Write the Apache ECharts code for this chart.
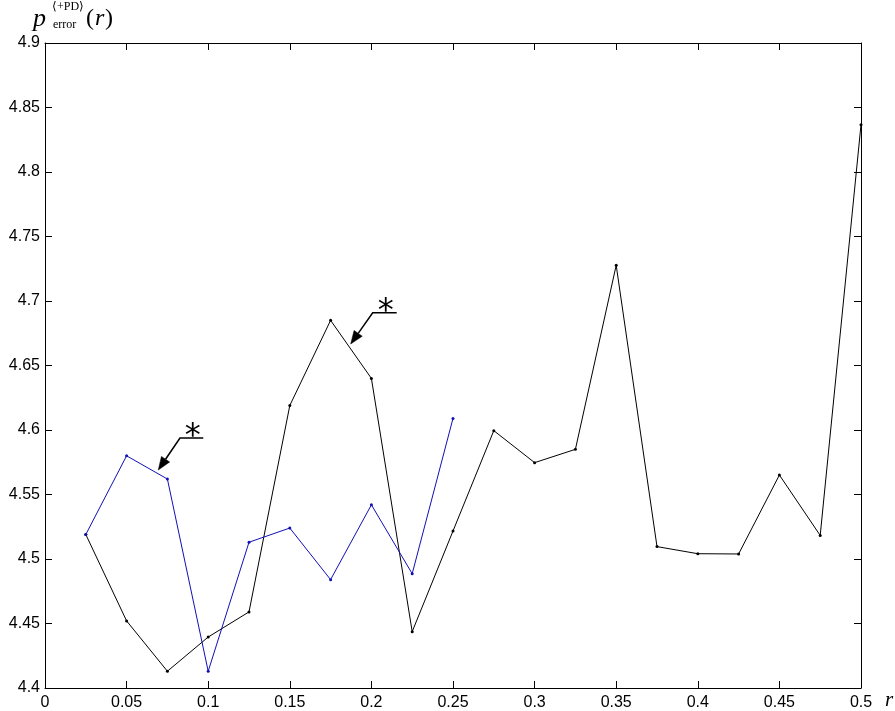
<!DOCTYPE html>
<html>
<head>
<meta charset="utf-8">
<script src="https://cdn.jsdelivr.net/npm/echarts@6/dist/echarts.min.js"></script>
<style>
html,body{margin:0;padding:0;background:#fff;}
#main{width:895px;height:711px;}
</style>
</head>
<body>
<div id="main"></div>
<script>
// ---- data ----
const xValues = [0.025, 0.05, 0.075, 0.1, 0.125, 0.15, 0.175, 0.2, 0.225, 0.25,
                 0.275, 0.3, 0.325, 0.35, 0.375, 0.4, 0.425, 0.45, 0.475, 0.5];
const blackValues = [4.519, 4.452, 4.413, 4.4395, 4.459, 4.619, 4.685, 4.640, 4.4437, 4.5217,
                     4.5995, 4.5747, 4.585, 4.7277, 4.5096, 4.5041, 4.5039, 4.5651, 4.5183, 4.8367];
const blueX = [0.025, 0.05, 0.075, 0.1, 0.125, 0.15, 0.175, 0.2, 0.225, 0.25];
const blueValues = [4.519, 4.580, 4.562, 4.413, 4.513, 4.524, 4.484, 4.542, 4.4886, 4.609];
const xTicks = {min: 0, max: 0.5, interval: 0.05};
const yTicks = {min: 4.4, max: 4.9, interval: 0.05};
// annotation arrows (data coords): tip, knee, end of underline
const arrow1 = [[0.0694, 4.569], [0.0827, 4.5938], [0.097, 4.5938]];
const arrow2 = [[0.1873, 4.6667], [0.2008, 4.6909], [0.2155, 4.6909]];
const annotationText = '*';

const chart = echarts.init(document.getElementById('main'), null, {renderer: 'canvas'});
const zip = (xs, ys) => xs.map((x, i) => [x, ys[i]]);
const labelFont = {color: '#000', fontSize: 16, fontFamily: 'Liberation Sans, Arial, sans-serif'};
const lineStyleAxis = {color: '#000', width: 1};

chart.setOption({
  animation: false,
  backgroundColor: '#fff',
  grid: {left: 45, right: 34, top: 43, bottom: 23, containLabel: false},
  xAxis: [
    {type: 'value', position: 'bottom', min: xTicks.min, max: xTicks.max, interval: xTicks.interval,
     axisLine: {show: true, onZero: false, lineStyle: lineStyleAxis},
     axisTick: {show: true, inside: true, length: 7, lineStyle: lineStyleAxis},
     axisLabel: Object.assign({margin: 7}, labelFont),
     splitLine: {show: false}},
    {type: 'value', position: 'top', min: xTicks.min, max: xTicks.max, interval: xTicks.interval,
     axisLine: {show: true, onZero: false, lineStyle: lineStyleAxis},
     axisTick: {show: true, inside: true, length: 7, lineStyle: lineStyleAxis},
     axisLabel: {show: false}, splitLine: {show: false}}
  ],
  yAxis: [
    {type: 'value', position: 'left', min: yTicks.min, max: yTicks.max, interval: yTicks.interval,
     axisLine: {show: true, onZero: false, lineStyle: lineStyleAxis},
     axisTick: {show: true, inside: true, length: 7, lineStyle: lineStyleAxis},
     axisLabel: Object.assign({margin: 5}, labelFont),
     splitLine: {show: false}},
    {type: 'value', position: 'right', min: yTicks.min, max: yTicks.max, interval: yTicks.interval,
     axisLine: {show: true, onZero: false, lineStyle: lineStyleAxis},
     axisTick: {show: true, inside: true, length: 7, lineStyle: lineStyleAxis},
     axisLabel: {show: false}, splitLine: {show: false}}
  ],
  series: [
    {type: 'line', xAxisIndex: 0, yAxisIndex: 0, data: zip(xValues, blackValues),
     symbol: 'circle', symbolSize: 3, showSymbol: true,
     lineStyle: {color: '#000', width: 1}, itemStyle: {color: '#000'}, z: 3},
    {type: 'line', xAxisIndex: 0, yAxisIndex: 0, data: zip(blueX, blueValues),
     symbol: 'circle', symbolSize: 3, showSymbol: true,
     lineStyle: {color: '#1010b8', width: 1}, itemStyle: {color: '#1010b8'}, z: 4}
  ]
});

function px(p) { return chart.convertToPixel({xAxisIndex: 0, yAxisIndex: 0}, p); }
function arrowGraphics(a) {
  const tip = px(a[0]), knee = px(a[1]), end = px(a[2]);
  const dx = tip[0] - knee[0], dy = tip[1] - knee[1];
  const len = Math.sqrt(dx * dx + dy * dy);
  const ux = dx / len, uy = dy / len;
  const hl = 13, hw = 5;
  const bx = tip[0] - ux * hl, by = tip[1] - uy * hl;
  const head = [tip, [bx - uy * hw, by + ux * hw], [bx + uy * hw, by - ux * hw]];
  return [
    {type: 'polyline', shape: {points: [[bx, by], knee, end]}, style: {stroke: '#000', lineWidth: 1.5, fill: null}},
    {type: 'polygon', shape: {points: head}, style: {fill: '#000', stroke: '#000', lineWidth: 0.5}},
    {type: 'text', x: (knee[0] + end[0]) / 2 + 1, y: knee[1] + 15,
     style: {text: annotationText, fontSize: 32, fontFamily: 'DejaVu Sans, sans-serif', fontWeight: 'normal',
             fill: '#000', align: 'center', verticalAlign: 'bottom'}}
  ];
}

const serif = 'Liberation Serif, Times New Roman, serif';
chart.setOption({
  graphic: [].concat(
    arrowGraphics(arrow1),
    arrowGraphics(arrow2),
    [
      {type: 'text', x: 33, y: 19, style: {text: 'p', fontSize: 26, fontStyle: 'italic', fontFamily: serif, fill: '#000', verticalAlign: 'middle'}},
      {type: 'text', x: 52, y: 7, style: {text: '\u27E8+PD\u27E9', fontSize: 12, fontFamily: serif, fill: '#000', verticalAlign: 'middle'}},
      {type: 'text', x: 53, y: 25, style: {text: 'error', fontSize: 12, fontFamily: serif, fill: '#000', verticalAlign: 'middle'}},
      {type: 'text', x: 86, y: 19, style: {text: '(', fontSize: 24, fontFamily: serif, fill: '#000', verticalAlign: 'middle'}},
      {type: 'text', x: 95, y: 19, style: {text: 'r', fontSize: 24, fontStyle: 'italic', fontFamily: serif, fill: '#000', verticalAlign: 'middle'}},
      {type: 'text', x: 105, y: 19, style: {text: ')', fontSize: 24, fontFamily: serif, fill: '#000', verticalAlign: 'middle'}},
      {type: 'text', x: 885, y: 700, style: {text: 'r', fontSize: 21, fontStyle: 'italic', fontFamily: serif, fill: '#000', verticalAlign: 'middle'}}
    ]
  )
});
</script>
</body>
</html>
